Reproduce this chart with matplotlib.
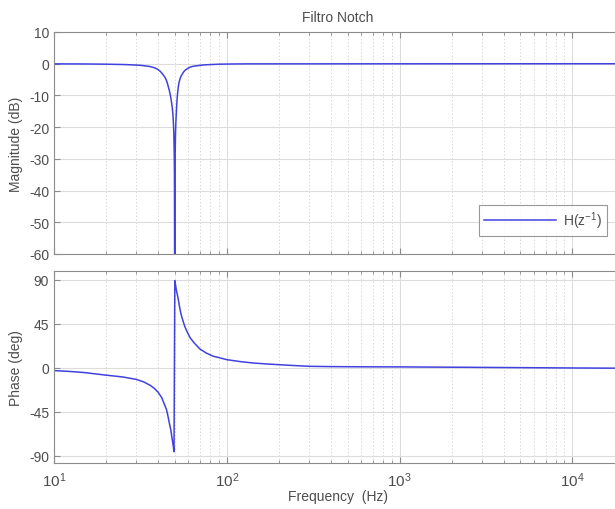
import matplotlib

matplotlib.use("Agg")
import matplotlib.pyplot as plt
from matplotlib.ticker import LogLocator, LogFormatterMathtext, NullFormatter

# Values (notch near 50 Hz)
mag_freq_hz = [10, 15, 20, 25, 28, 31.5, 34, 36, 37.5, 39, 40, 41, 42, 43, 44, 44.7, 45.3, 45.9,
               46.5, 47, 47.5, 48, 48.4, 48.8, 49.1, 49.4, 49.65, 49.8, 50.0,
               50.15, 50.3, 50.5, 50.75, 51.0, 51.3, 51.6, 52.0, 52.4, 52.9, 53.5, 54.1, 54.8,
               55.8, 57, 59, 61.2, 63.5, 66, 73, 80, 90, 110, 130, 24000]
mag_db = [-0.05, -0.08, -0.15, -0.25, -0.35, -0.5, -0.7, -0.9, -1.15, -1.5, -1.85, -2.3, -2.9,
          -3.6, -4.4, -5.2, -6.1, -7.3, -8.4, -9.5, -10.9, -12.5, -14, -16, -18.5, -22, -28, -35,
          -90,
          -35, -28, -22, -18.5, -16, -13.3, -11, -9, -7.3, -6.0, -5.0, -4.2, -3.6,
          -2.9, -2.2, -1.6, -1.1, -0.85, -0.7, -0.4, -0.28, -0.15, -0.08, -0.05, 0.0]

phase_freq_hz = [10, 12, 15, 19.7, 25, 30, 33, 36, 38, 40, 42, 43.9, 44.8, 45.5, 46.8, 47.5, 48,
                 48.5, 49, 49.25, 49.5,
                 50.05, 50.5, 51, 51.7, 52.4, 53.2, 54, 55, 56, 57.2, 58.5, 60, 61.2, 63, 65,
                 67.5, 70, 73, 76, 80, 83.6, 90, 100, 120, 142, 170, 203, 250, 302, 400, 600,
                 1000, 3000, 10000, 24000]
phase_deg = [-3, -3.7, -5, -7.5, -9.5, -12, -14.5, -18, -21, -25, -30.5, -39, -43, -48, -59, -64,
             -70, -75, -80, -83, -86,
             89, 85, 80, 75, 70, 63, 57, 51.5, 47, 42, 38, 34, 31, 28, 25,
             22, 19, 17, 15, 13.2, 11.7, 10.3, 8.2, 6.2, 4.8, 3.8, 3.0, 2.1, 1.4, 1.1, 0.9,
             0.8, 0.3, -0.3, -0.6]

mag_ticks = [-60, -50, -40, -30, -20, -10, 0, 10]
phase_ticks = [-90, -45, 0, 45, 90]

LINE_COLOR = "#4141e0"
TEXT_COLOR = "#4d4d4d"
SPINE_COLOR = "#8c8c8c"

plt.rcParams["font.family"] = ["Liberation Sans", "DejaVu Sans"]
plt.rcParams["mathtext.default"] = "regular"
plt.rcParams["axes.unicode_minus"] = False
plt.rcParams["font.size"] = 10

fig = plt.figure(figsize=(6.15, 5.10), dpi=100)
W, H = 615, 510
left, right = 54, 622
ax_mag = fig.add_axes([left / W, 1 - 255 / H, (right - left) / W, (255 - 33) / H])
ax_ph = fig.add_axes([left / W, 1 - 464 / H, (right - left) / W, (464 - 271.7) / H])

xlim = (10, 1.94e4)


def style_axis(ax):
    ax.set_xscale("log")
    ax.set_xlim(*xlim)
    ax.xaxis.set_major_locator(LogLocator(base=10))
    ax.xaxis.set_minor_locator(LogLocator(base=10, subs=range(2, 10)))
    ax.grid(True, which="major", color="#dcdcdc", linewidth=0.8, linestyle="-")
    ax.grid(True, which="minor", color="#d8d8d8", linewidth=0.7, linestyle=(0, (1.5, 2)))
    ax.set_axisbelow(True)
    for sp in ax.spines.values():
        sp.set_color(SPINE_COLOR)
        sp.set_linewidth(0.8)
    ax.tick_params(which="both", direction="in", top=True, right=True,
                   colors=SPINE_COLOR, labelcolor=TEXT_COLOR, labelsize=10)
    ax.tick_params(which="major", length=4)
    ax.tick_params(which="minor", length=2.5)


style_axis(ax_mag)
ax_mag.plot(mag_freq_hz, mag_db, color=LINE_COLOR, linewidth=1.1, label="H(z$^{-1}$)")
ax_mag.set_ylim(-60, 10)
ax_mag.set_yticks(mag_ticks)
ax_mag.xaxis.set_major_formatter(NullFormatter())
ax_mag.xaxis.set_minor_formatter(NullFormatter())
ax_mag.set_ylabel("Magnitude (dB)", color=TEXT_COLOR, fontsize=10)
ax_mag.set_title("Filtro Notch", color=TEXT_COLOR, fontsize=10, pad=8)
leg = ax_mag.legend(loc="lower right", bbox_to_anchor=((607 - left) / (right - left), (255 - 237) / 222),
                    handlelength=5.2, fontsize=10, frameon=True, fancybox=False,
                    borderpad=0.35, handletextpad=0.5, borderaxespad=0)
leg.get_frame().set_edgecolor("#7f7f7f")
leg.get_frame().set_linewidth(0.8)
for t in leg.get_texts():
    t.set_color(TEXT_COLOR)

style_axis(ax_ph)
ax_ph.plot(phase_freq_hz, phase_deg, color=LINE_COLOR, linewidth=1.1)
ax_ph.set_ylim(-97.5, 99.2)
ax_ph.set_yticks(phase_ticks)
ax_ph.xaxis.set_major_formatter(LogFormatterMathtext())
ax_ph.xaxis.set_minor_formatter(NullFormatter())
ax_ph.tick_params(axis="x", which="major", pad=5, labelsize=11)
ax_ph.set_ylabel("Phase (deg)", color=TEXT_COLOR, fontsize=10)
ax_ph.set_xlabel("Frequency  (Hz)", color=TEXT_COLOR, fontsize=10, labelpad=0)

fig.align_ylabels([ax_mag, ax_ph])
fig.savefig("out.png", dpi=100)
